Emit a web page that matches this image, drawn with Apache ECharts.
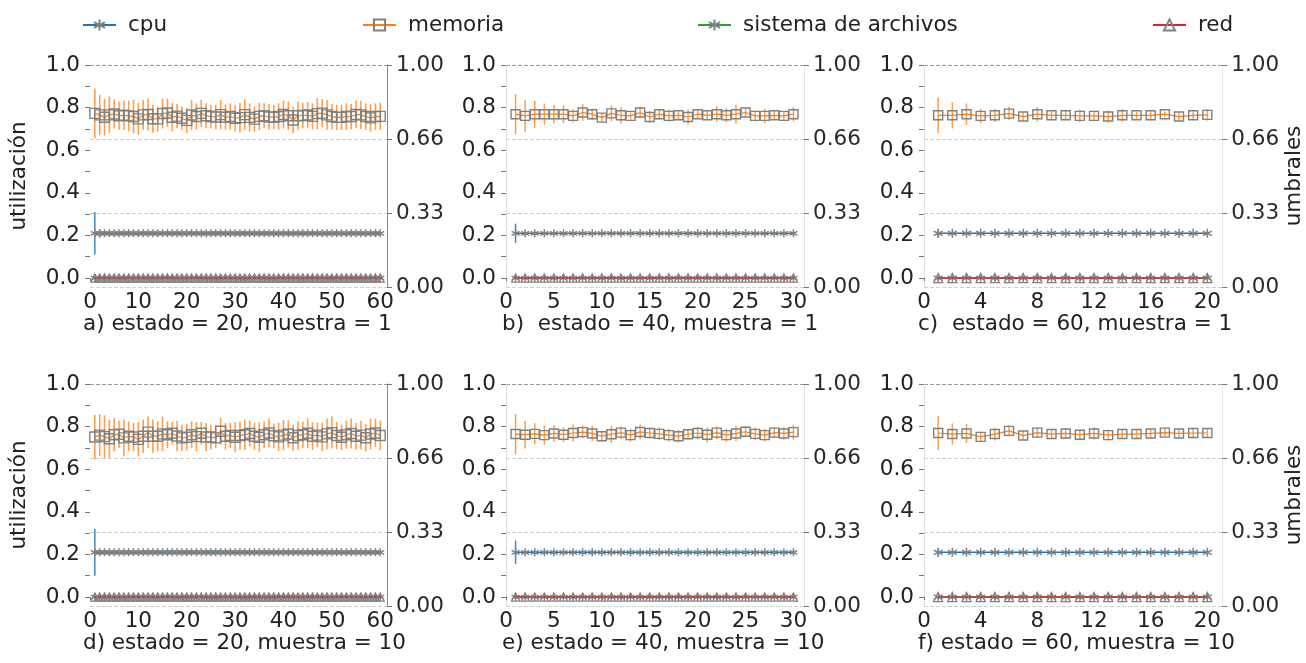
<!DOCTYPE html>
<html><head><meta charset="utf-8">
<script src="https://cdn.jsdelivr.net/npm/echarts@6/dist/echarts.min.js"></script>
<style>html,body{margin:0;padding:0;background:#fff}#c{width:1306px;height:663px}</style>
</head><body><div id="c"></div>
<script>
// ---------- data ----------
const seriesNames = ['cpu', 'memoria', 'sistema de archivos', 'red'];
const panelTitles = ['a) estado = 20, muestra = 1', 'b)  estado = 40, muestra = 1', 'c)  estado = 60, muestra = 1',
                     'd) estado = 20, muestra = 10', 'e) estado = 40, muestra = 10', 'f) estado = 60, muestra = 10'];
const xTickLabelsA = [0, 10, 20, 30, 40, 50, 60];
const xTickLabelsB = [0, 5, 10, 15, 20, 25, 30];
const xTickLabelsC = [0, 4, 8, 12, 16, 20];
const yLeftTickLabels = [0.0, 0.2, 0.4, 0.6, 0.8, 1.0];
const yRightTickLabels = ['0.00', '0.33', '0.66', '1.00'];

const memA = [0.773,0.766,0.755,0.766,0.770,0.762,0.764,0.761,0.758,0.747,0.766,0.768,0.748,0.747,0.772,0.775,0.755,0.760,0.750,0.740,
              0.765,0.758,0.773,0.762,0.758,0.756,0.767,0.755,0.758,0.750,0.753,0.767,0.754,0.746,0.759,0.762,0.756,0.755,0.758,0.768,
              0.762,0.742,0.762,0.763,0.765,0.759,0.772,0.774,0.766,0.758,0.754,0.754,0.758,0.758,0.768,0.766,0.758,0.752,0.758,0.759];
const memErrA = [0.117,0.094,0.086,0.086,0.068,0.066,0.069,0.072,0.078,0.074,0.070,0.075,0.066,0.059,0.070,0.066,0.066,0.057,0.055,0.059,
                 0.070,0.062,0.064,0.059,0.055,0.057,0.069,0.059,0.062,0.062,0.069,0.072,0.066,0.059,0.064,0.059,0.061,0.057,0.062,0.065,
                 0.066,0.062,0.066,0.060,0.060,0.061,0.073,0.066,0.070,0.059,0.059,0.059,0.062,0.059,0.064,0.066,0.062,0.064,0.062,0.064];
const memB = [0.769,0.761,0.769,0.769,0.769,0.769,0.761,0.777,0.769,0.753,0.773,0.764,0.761,0.777,0.756,0.769,0.761,0.764,0.756,0.769,
              0.764,0.769,0.764,0.769,0.777,0.761,0.761,0.764,0.761,0.769];
const memErrB = [0.094,0.074,0.063,0.050,0.043,0.042,0.031,0.039,0.027,0.023,0.037,0.039,0.017,0.027,0.027,0.025,0.029,0.023,0.035,0.020,
                 0.023,0.037,0.033,0.045,0.018,0.026,0.033,0.021,0.023,0.034];
const memC = [0.764,0.764,0.769,0.761,0.764,0.772,0.758,0.769,0.764,0.764,0.761,0.761,0.758,0.764,0.764,0.764,0.769,0.758,0.764,0.766];
const memErrC = [0.084,0.062,0.050,0.034,0.031,0.031,0.020,0.034,0.017,0.021,0.030,0.020,0.029,0.030,0.017,0.021,0.013,0.020,0.019,0.027];
const memD = [0.751,0.760,0.753,0.743,0.762,0.764,0.747,0.755,0.751,0.740,0.755,0.774,0.755,0.755,0.766,0.762,0.769,0.756,0.747,0.750,
              0.762,0.753,0.769,0.751,0.751,0.747,0.778,0.755,0.759,0.750,0.758,0.762,0.768,0.755,0.750,0.762,0.770,0.757,0.752,0.760,
              0.765,0.748,0.758,0.762,0.769,0.755,0.760,0.752,0.766,0.772,0.758,0.750,0.762,0.768,0.755,0.760,0.748,0.765,0.770,0.758];
const memErrD = [0.105,0.099,0.100,0.090,0.078,0.064,0.086,0.070,0.066,0.080,0.078,0.074,0.078,0.070,0.082,0.062,0.053,0.072,0.062,0.062,
                 0.062,0.069,0.053,0.066,0.059,0.047,0.062,0.062,0.059,0.070,0.066,0.072,0.060,0.064,0.070,0.062,0.068,0.058,0.066,0.071,
                 0.064,0.060,0.068,0.062,0.070,0.065,0.058,0.066,0.072,0.075,0.064,0.060,0.066,0.070,0.062,0.068,0.064,0.072,0.066,0.070];
const memE = [0.765,0.762,0.766,0.760,0.768,0.762,0.770,0.774,0.768,0.755,0.764,0.772,0.760,0.775,0.770,0.766,0.760,0.755,0.764,0.770,
              0.762,0.772,0.760,0.768,0.776,0.766,0.760,0.772,0.768,0.774];
const memErrE = [0.095,0.065,0.050,0.045,0.040,0.035,0.040,0.030,0.035,0.025,0.040,0.030,0.030,0.035,0.025,0.030,0.030,0.030,0.025,0.030,
                 0.035,0.030,0.030,0.035,0.025,0.030,0.030,0.025,0.030,0.035];
const memF = [0.770,0.765,0.768,0.752,0.765,0.780,0.758,0.772,0.765,0.768,0.762,0.768,0.760,0.765,0.765,0.768,0.772,0.768,0.770,0.770];
const memErrF = [0.080,0.050,0.045,0.025,0.030,0.025,0.020,0.025,0.020,0.025,0.020,0.030,0.025,0.020,0.020,0.020,0.020,0.020,0.020,0.020];

const cpuA = [0.21,0.21,0.21,0.21,0.21,0.21,0.21,0.21,0.21,0.21,0.21,0.21,0.21,0.21,0.21,0.21,0.21,0.21,0.21,0.21,
              0.21,0.21,0.21,0.21,0.21,0.21,0.21,0.21,0.21,0.21,0.21,0.21,0.21,0.21,0.21,0.21,0.21,0.21,0.21,0.21,
              0.21,0.21,0.21,0.21,0.21,0.21,0.21,0.21,0.21,0.21,0.21,0.21,0.21,0.21,0.21,0.21,0.21,0.21,0.21,0.21];
const cpuB = [0.21,0.21,0.21,0.21,0.21,0.21,0.21,0.21,0.21,0.21,0.21,0.21,0.21,0.21,0.21,0.21,0.21,0.21,0.21,0.21,
              0.21,0.21,0.21,0.21,0.21,0.21,0.21,0.21,0.21,0.21];
const cpuC = [0.21,0.21,0.21,0.21,0.21,0.21,0.21,0.21,0.21,0.21,0.21,0.21,0.21,0.21,0.21,0.21,0.21,0.21,0.21,0.21];
const cpuD = [0.21,0.21,0.21,0.21,0.21,0.21,0.21,0.21,0.21,0.21,0.21,0.21,0.21,0.21,0.21,0.21,0.21,0.21,0.21,0.21,
              0.21,0.21,0.21,0.21,0.21,0.21,0.21,0.21,0.21,0.21,0.21,0.21,0.21,0.21,0.21,0.21,0.21,0.21,0.21,0.21,
              0.21,0.21,0.21,0.21,0.21,0.21,0.21,0.21,0.21,0.21,0.21,0.21,0.21,0.21,0.21,0.21,0.21,0.21,0.21,0.21];
const cpuE = [0.21,0.21,0.21,0.21,0.21,0.21,0.21,0.21,0.21,0.21,0.21,0.21,0.21,0.21,0.21,0.21,0.21,0.21,0.21,0.21,
              0.21,0.21,0.21,0.21,0.21,0.21,0.21,0.21,0.21,0.21];
const cpuF = [0.21,0.21,0.21,0.21,0.21,0.21,0.21,0.21,0.21,0.21,0.21,0.21,0.21,0.21,0.21,0.21,0.21,0.21,0.21,0.21];
// cpu error bars only visible on the first samples: [sample, half-width]
const cpuErrA = [[1, 0.10], [2, 0.02]];
const cpuErrB = [[1, 0.045]];
const cpuErrC = [[1, 0.02]];
const cpuErrD = [[1, 0.11], [2, 0.012]];
const cpuErrE = [[1, 0.055]];
const cpuErrF = [[1, 0.02]];

const zero60 = [0,0,0,0,0,0,0,0,0,0,0,0,0,0,0,0,0,0,0,0,0,0,0,0,0,0,0,0,0,0,
                0,0,0,0,0,0,0,0,0,0,0,0,0,0,0,0,0,0,0,0,0,0,0,0,0,0,0,0,0,0];
const zero30 = [0,0,0,0,0,0,0,0,0,0,0,0,0,0,0,0,0,0,0,0,0,0,0,0,0,0,0,0,0,0];
const zero20 = [0,0,0,0,0,0,0,0,0,0,0,0,0,0,0,0,0,0,0,0];
const fsA = zero60, fsB = zero30, fsC = zero20, fsD = zero60, fsE = zero30, fsF = zero20;
const redA = zero60, redB = zero30, redC = zero20, redD = zero60, redE = zero30, redF = zero20;

// ---------- layout ----------
const FONT = 'DejaVu Sans';
const TXT = '#222';
const TICK = '#777';
const FS_TICK = 21.5, FS_TEXT = 21.5;
const colLeft = [90, 506, 924];
const colWidth = [297, 298, 300];
const rowTop = [65, 384];
const plotH = 222;
const xMax = [61.4, 31.1, 21.05];
const xTicks = [xTickLabelsA, xTickLabelsB, xTickLabelsC];
const xLast = [60, 30, 20];
const titleLeft = [78, 497, 913];

const panels = [
  {mem: memA, err: memErrA, cpu: cpuA, cpuErr: cpuErrA, fs: fsA, red: redA},
  {mem: memB, err: memErrB, cpu: cpuB, cpuErr: cpuErrB, fs: fsB, red: redB},
  {mem: memC, err: memErrC, cpu: cpuC, cpuErr: cpuErrC, fs: fsC, red: redC},
  {mem: memD, err: memErrD, cpu: cpuD, cpuErr: cpuErrD, fs: fsD, red: redD},
  {mem: memE, err: memErrE, cpu: cpuE, cpuErr: cpuErrE, fs: fsE, red: redE},
  {mem: memF, err: memErrF, cpu: cpuF, cpuErr: cpuErrF, fs: fsF, red: redF}
];
const markSize = [[10, 8], [9, 8], [9, 9]]; // [square, asterisk] per column

const ASTER = 'path://M0,-10L0,10M-8.66,-5L8.66,5M-8.66,5L8.66,-5';
const GRAY = '#808080';
const C_CPU = '#1f77b4', C_MEM = '#ff7f0e', C_FS = '#2ca02c', C_RED = '#d62728';

const grid = [], xAxis = [], yAxis = [], series = [], title = [];
const leftTickVals = [0,0.1,0.2,0.3,0.4,0.5,0.6,0.7,0.8,0.9,1.0];

panels.forEach((p, gi) => {
  const col = gi % 3, row = Math.floor(gi / 3);
  grid.push({left: colLeft[col], top: rowTop[row], width: colWidth[col], height: plotH, containLabel: false});
  const minorVals = [];
  for (let k = 0; k <= xLast[col]; k++) minorVals.push(k);
  xAxis.push({
    type: 'value', gridIndex: gi, min: 0, max: xMax[col],
    axisLine: {show: false},
    axisTick: {show: true, customValues: minorVals, length: 3, lineStyle: {color: TICK, width: 1}},
    axisLabel: {customValues: xTicks[col], formatter: v => String(Math.round(v)), fontFamily: FONT, fontSize: FS_TICK, color: TXT, margin: 4},
    splitLine: {show: false}
  });
  const leftSpine = col === 0 ? 'transparent' : '#dddddd';
  const rightSpine = col === 0 ? '#888888' : '#e6e6e6';
  yAxis.push({
    type: 'value', gridIndex: gi, position: 'left', min: -0.042, max: 1.0,
    name: col === 0 ? 'utilización' : '', nameLocation: 'middle', nameGap: 60,
    nameTextStyle: {fontFamily: FONT, fontSize: FS_TEXT, color: TXT},
    axisLine: {show: true, lineStyle: {color: leftSpine}},
    axisTick: {show: true, customValues: leftTickVals, length: 5, lineStyle: {color: TICK}},
    axisLabel: {customValues: yLeftTickLabels, formatter: v => v.toFixed(1), fontFamily: FONT, fontSize: FS_TICK, color: TXT, margin: 10},
    splitLine: {show: false}
  });
  yAxis.push({
    type: 'value', gridIndex: gi, position: 'right', min: 0, max: 1, interval: 1 / 3,
    name: col === 2 ? 'umbrales' : '', nameLocation: 'middle', nameGap: 58,
    nameTextStyle: {fontFamily: FONT, fontSize: FS_TEXT, color: TXT},
    axisLine: {show: true, lineStyle: {color: rightSpine}},
    axisTick: {show: true, length: 5, lineStyle: {color: TICK}},
    axisLabel: {formatter: (v, i) => yRightTickLabels[Math.round(v * 3)], fontFamily: FONT, fontSize: FS_TICK, color: '#2a2a2a', margin: 9},
    splitLine: {show: true, lineStyle: {type: 'dashed', width: 1, color: ['#d0d0d0', '#d0d0d0', '#d0d0d0', '#999999']}}
  });
  title.push({text: panelTitles[gi], left: titleLeft[col], top: row === 0 ? 308 : 627,
    textStyle: {fontFamily: FONT, fontSize: FS_TEXT, fontWeight: 'normal', color: TXT}});

  const yL = gi * 2;
  const sq = markSize[col][0], as = markSize[col][1];
  const errLine = (pts, color, width, opacity, z) => ({
    type: 'custom', xAxisIndex: gi, yAxisIndex: yL, silent: true, z: z, data: pts,
    renderItem: (params, api) => {
      const a = api.coord([api.value(0), api.value(1)]);
      const b = api.coord([api.value(0), api.value(2)]);
      return {type: 'line', shape: {x1: a[0], y1: a[1], x2: b[0], y2: b[1]}, style: {stroke: color, lineWidth: width, opacity: opacity}};
    }
  });
  // error bars
  series.push(errLine(p.mem.map((v, i) => [i + 1, v - p.err[i], v + p.err[i]]), C_MEM, col === 0 ? 1.6 : 1.5, 0.75, 2));
  series.push(errLine(p.cpuErr.map(e => [e[0], p.cpu[e[0] - 1] - e[1], p.cpu[e[0] - 1] + e[1]]), C_CPU, 1.5, 0.85, 2));
  // lines with markers
  series.push({type: 'line', name: 'cpu', xAxisIndex: gi, yAxisIndex: yL, data: p.cpu.map((v, i) => [i + 1, v]),
    symbol: ASTER, symbolSize: as, showAllSymbol: true, z: 3,
    lineStyle: {color: C_CPU, width: 1.5}, itemStyle: {color: 'transparent', borderColor: GRAY, borderWidth: 1.5}});
  series.push({type: 'line', name: 'memoria', xAxisIndex: gi, yAxisIndex: yL, data: p.mem.map((v, i) => [i + 1, v]),
    symbol: 'rect', symbolSize: sq, showAllSymbol: true, z: 3,
    lineStyle: {color: C_MEM, width: 1.2}, itemStyle: {color: 'transparent', borderColor: GRAY, borderWidth: 1.4}});
  series.push({type: 'line', name: 'sistema de archivos', xAxisIndex: gi, yAxisIndex: yL, data: p.fs.map((v, i) => [i + 1, v]),
    symbol: ASTER, symbolSize: as, showAllSymbol: true, z: 3,
    lineStyle: {color: C_FS, width: 1.5}, itemStyle: {color: 'transparent', borderColor: GRAY, borderWidth: 1.3}});
  series.push({type: 'line', name: 'red', xAxisIndex: gi, yAxisIndex: yL, data: p.red.map((v, i) => [i + 1, v]),
    symbol: 'triangle', symbolSize: as, showAllSymbol: true, z: 4,
    lineStyle: {color: C_RED, width: 1.5}, itemStyle: {color: 'transparent', borderColor: GRAY, borderWidth: 1.3}});
});

const legendBase = {top: 9, itemHeight: 14, itemWidth: 33, selectedMode: false,
  textStyle: {fontFamily: FONT, fontSize: FS_TEXT, color: TXT, padding: [0, 0, 0, 7]}};
const legend = [
  Object.assign({}, legendBase, {data: [seriesNames[0]], left: 77}),
  Object.assign({}, legendBase, {data: [seriesNames[1]], left: 357}),
  Object.assign({}, legendBase, {data: [seriesNames[2]], left: 692}),
  Object.assign({}, legendBase, {data: [seriesNames[3]], left: 1147})
];

const chart = echarts.init(document.getElementById('c'), null, {renderer: 'canvas'});
chart.setOption({animation: false, backgroundColor: '#ffffff', grid, xAxis, yAxis, series, title, legend});
</script>
</body></html>
